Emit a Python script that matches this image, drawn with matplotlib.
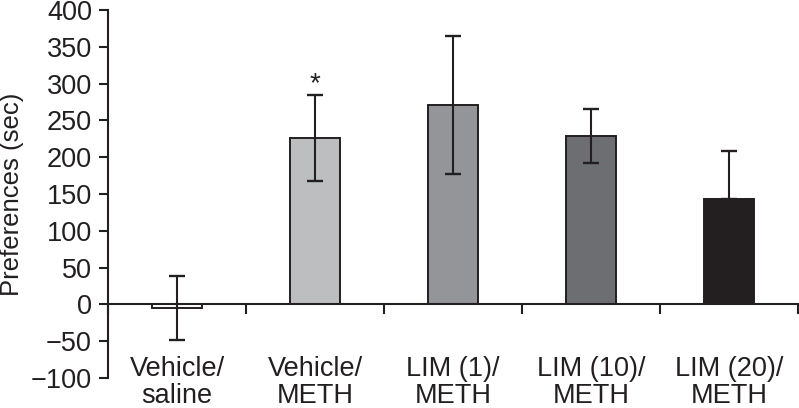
import matplotlib.pyplot as plt
import numpy as np

plt.rcParams['font.family'] = ['Liberation Sans', 'DejaVu Sans']

# data
groups = ["Vehicle/\nsaline", "Vehicle/\nMETH", "LIM (1)/\nMETH", "LIM (10)/\nMETH", "LIM (20)/\nMETH"]
means = [-5, 226, 271, 229, 143]
err_low = [44, 59, 94, 37, 0]
err_high = [44, 59, 94, 37, 66]
signif = ["", "*", "", "", ""]
colors = ["#ffffff", "#bcbec0", "#939598", "#6d6e71", "#231f20"]

dark = "#231f20"

fig = plt.figure(figsize=(7.99, 4.08), dpi=100)
ax = fig.add_axes([108 / 799, 1 - 378 / 408, 690 / 799, 368 / 408])

x = np.arange(len(groups)) + 0.5
ax.bar(x, means, width=0.36, color=colors, edgecolor=dark, linewidth=1.4, zorder=2)
ax.errorbar(x, means, yerr=[err_low, err_high], fmt="none", ecolor=dark,
            elinewidth=1.5, capsize=6, capthick=1.7, zorder=3)

for xi, m, e, s in zip(x, means, err_high, signif):
    if s:
        ax.annotate(s, (xi, m + e), xytext=(0, -2), textcoords="offset points",
                    ha="center", va="bottom", fontsize=20, color=dark)

ax.set_xlim(0, len(groups))
ax.set_ylim(-100, 400)
ax.set_yticks(np.arange(-100, 401, 50))

ax.spines["top"].set_visible(False)
ax.spines["right"].set_visible(False)
ax.spines["bottom"].set_position(("data", 0))
for sp in ["left", "bottom"]:
    ax.spines[sp].set_color(dark)
    ax.spines[sp].set_linewidth(1.5)

ax.set_xticks(np.arange(len(groups) + 1))
ax.set_xticklabels([])
ax.set_xticks(x, minor=True)
ax.set_xticklabels(groups, minor=True, fontsize=19.5, color=dark, linespacing=1.05)
ax.tick_params(axis="x", which="major", direction="out", length=7, width=1.5, color=dark)
ax.tick_params(axis="x", which="minor", length=0, pad=37)
ax.tick_params(axis="y", direction="out", length=6.5, width=1.5, color=dark,
               labelsize=19.5, labelcolor=dark, pad=5)

ax.set_ylabel("Preferences (sec)", fontsize=18.5, color=dark)
ax.yaxis.set_label_coords(-0.122, 0.5)

fig.savefig("out.png", dpi=100)
